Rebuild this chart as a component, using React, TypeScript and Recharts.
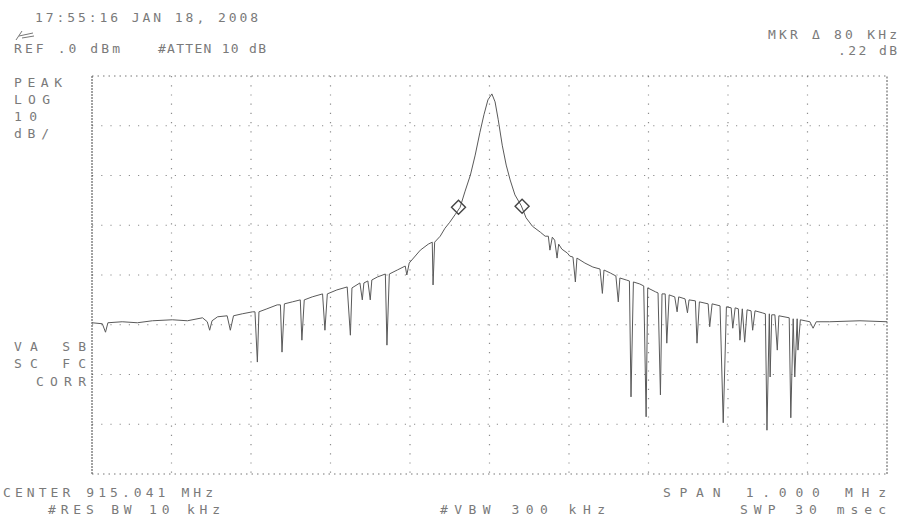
import React from 'react';
import {
  ComposedChart,
  Line,
  Scatter,
  XAxis,
  YAxis,
  CartesianGrid,
  ReferenceLine,
} from 'recharts';

// offset from centre frequency (kHz) and level (dBm)
const traceFreq = [
  -500, -487, -483, -480, -462, -443, -424, -399, -380, -361, -355, -352, -349, -342, -330, -326, -322,
  -311, -298, -295, -292, -290, -280, -267, -263, -261, -258, -248, -238, -236, -233, -223, -210, -207,
  -204, -192, -179, -175, -173, -163, -160, -158, -153, -150, -148, -141, -131, -129, -126, -116, -106,
  -104, -101, -87, -77, -72, -71, -69, -62, -56, -50, -43, -37, -31, -24, -18, -12, -7, -2, 3, 7, 11,
  16, 21, 26, 32, 40, 46, 54, 64, 70, 74, 76, 79, 82, 85, 87, 91, 98, 101, 105, 108, 110, 120, 130,
  139, 142, 144, 152, 159, 162, 164, 172, 176, 178, 181, 189, 194, 197, 199, 209, 212, 215, 217, 221,
  223, 226, 233, 236, 238, 246, 249, 251, 259, 261, 264, 275, 277, 280, 290, 294, 298, 304, 306, 309,
  313, 315, 318, 321, 324, 329, 331, 334, 343, 347, 349, 352, 353, 355, 359, 362, 364, 377, 379, 382,
  384, 387, 388, 391, 397, 403, 407, 411, 428, 466, 500,
];
const traceLevel = [
  -49.6, -49.8, -51.5, -49.6, -49.4, -49.6, -49.2, -49.0, -49.2, -48.6, -49.4, -51.1, -49.2, -48.4,
  -48.2, -51.1, -48.2, -47.8, -47.4, -47.4, -57.5, -47.4, -46.8, -46.0, -46.0, -55.5, -45.8, -45.4,
  -45.0, -53.1, -45.0, -44.4, -43.8, -51.1, -43.8, -43.0, -42.4, -52.1, -42.6, -41.6, -45.0, -41.6,
  -41.2, -45.0, -41.0, -40.4, -39.8, -54.1, -39.8, -39.0, -38.2, -40.0, -37.6, -35.0, -33.8, -33.4,
  -42.0, -33.4, -32.2, -30.6, -29.4, -27.8, -26.4, -23.3, -19.9, -15.9, -11.3, -7.8, -4.8, -3.6, -5.2,
  -8.8, -13.9, -17.9, -20.9, -23.9, -26.1, -28.5, -30.2, -31.4, -32.2, -32.2, -35.0, -32.4, -33.0,
  -36.6, -33.8, -34.8, -35.6, -36.2, -36.4, -41.4, -36.6, -37.6, -38.4, -38.8, -43.7, -39.0, -39.6,
  -40.2, -45.4, -40.6, -41.0, -41.2, -64.5, -41.4, -41.8, -42.2, -68.5, -42.6, -43.4, -43.6, -64.1,
  -43.8, -43.8, -53.7, -44.0, -44.4, -47.4, -44.4, -44.8, -47.6, -45.0, -45.2, -53.7, -45.4, -45.8,
  -50.4, -45.8, -46.2, -69.7, -46.4, -46.6, -50.7, -46.6, -46.8, -53.1, -46.8, -53.5, -47.0, -47.2,
  -51.1, -47.2, -47.6, -47.8, -71.2, -47.8, -60.5, -48.0, -48.0, -55.1, -48.2, -48.6, -68.7, -48.8,
  -60.5, -48.8, -55.1, -49.0, -49.2, -49.4, -50.7, -49.4, -49.4, -49.2, -49.4,
];

const markerFreq = [-39, 41];
const markerLevel = [-26.4, -26.2];

const gridFreq = [-400, -300, -200, -100, 0, 100, 200, 300, 400];
const gridLevel = [-10, -20, -30, -40, -50, -60, -70];

const traceData = traceFreq.map((f, i) => ({ f, db: traceLevel[i] }));
const markerData = markerFreq.map((f, i) => ({ f, db: markerLevel[i] }));

const W = 904;
const H = 521;
const FONT = "'DejaVu Sans Mono', monospace";

const Diamond = (props: any) => {
  const { cx, cy } = props;
  const r = 7;
  return (
    <polygon
      points={`${cx},${cy - r} ${cx + r},${cy} ${cx},${cy + r} ${cx - r},${cy}`}
      fill="none"
      stroke="#444"
      strokeWidth={1.4}
    />
  );
};

// screen annotations: [text, x, baseline, width]
const labels: [string, number, number, number][] = [
  ['17:55:16 JAN 18, 2008', 35, 22, 223],
  ['REF .0 dBm', 14, 53, 106],
  ['#ATTEN 10 dB', 158, 53, 108],
  ['MKR \u0394 80 KHz', 768, 39, 129],
  ['.22 dB', 838, 55, 59],
  ['PEAK', 14, 87, 48],
  ['LOG', 14, 104, 36],
  ['10', 14, 121, 23],
  ['dB/', 14, 138, 35],
  ['VA SB', 14, 351, 72],
  ['SC FC', 14, 368, 72],
  ['CORR', 36, 386, 50],
  ['CENTER 915.041 MHz', 3, 497, 210],
  ['SPAN 1.000 MHz', 663, 497, 223],
  ['#RES BW 10 kHz', 48, 514, 172],
  ['#VBW 300 kHz', 440, 514, 165],
  ['SWP 30 msec', 740, 514, 146],
];

export default function App() {
  return (
    <div style={{ position: 'absolute', left: 0, top: 0, width: W, height: H, background: '#fff' }}>
      <ComposedChart width={W} height={H} margin={{ top: 76, right: 17, bottom: 47, left: 92 }}>
        <XAxis dataKey="f" type="number" domain={[-500, 500]} hide allowDataOverflow />
        <YAxis type="number" domain={[-80, 0]} hide allowDataOverflow />
        <CartesianGrid
          stroke="#8c8c8c"
          strokeWidth={1.2}
          strokeDasharray="1.2 8"
          horizontalValues={gridLevel}
          verticalValues={gridFreq}
        />
        <ReferenceLine y={0} stroke="#777" strokeDasharray="1.5 4" />
        <ReferenceLine y={-80} stroke="#777" strokeDasharray="1.5 4" />
        <ReferenceLine x={-500} stroke="#444" strokeDasharray="2 1" />
        <ReferenceLine x={500} stroke="#555" strokeDasharray="2 1.5" />
        <Line
          data={traceData}
          dataKey="db"
          type="linear"
          stroke="#5a5a5a"
          strokeWidth={1}
          dot={false}
          isAnimationActive={false}
        />
        <Scatter data={markerData} dataKey="db" shape={<Diamond />} isAnimationActive={false} />
      </ComposedChart>
      <svg
        width={W}
        height={H}
        style={{ position: 'absolute', left: 0, top: 0, pointerEvents: 'none' }}
      >
        <path d="M16 40 L22 31 M19 36 L33 33 M22 38 L34 36" stroke="#777" strokeWidth={1} fill="none" />
        {labels.map(([t, x, y, w]) => (
          <text
            key={t}
            x={x}
            y={y}
            textLength={w}
            lengthAdjust="spacing"
            fontFamily={FONT}
            fontSize={13}
            fill="#7a7a7a"
          >
            {t}
          </text>
        ))}
      </svg>
    </div>
  );
}
